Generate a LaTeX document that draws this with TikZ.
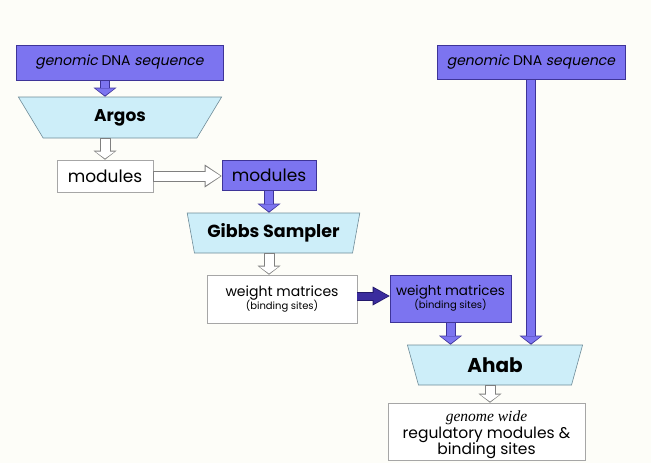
\documentclass[tikz,border=0pt]{standalone}
\usepackage{fontspec}
\setmainfont{Poppins}[ItalicFont=Poppins, ItalicFeatures={FakeSlant=0.2}]
\newfontfamily\serifit{Liberation Serif}
\usepackage{xcolor}
\definecolor{boxpurple}{HTML}{7C74F0}
\definecolor{edgepurple}{HTML}{3E3498}
\definecolor{darkpurple}{HTML}{3A2C9E}
\definecolor{darkedge}{HTML}{22186A}
\definecolor{toolcyan}{HTML}{CDEEF9}
\definecolor{tooledge}{HTML}{6F8C98}
\definecolor{paper}{HTML}{FDFDF8}
\usepackage{tikz}
\usetikzlibrary{arrows.meta, positioning, shapes.geometric, calc}

\begin{document}
\begin{tikzpicture}[x=1pt, y=-1pt,
    inputbox/.style={draw=edgepurple, fill=boxpurple, line width=0.6pt,
      inner sep=0pt, font=\fontsize{14}{16}\selectfont},
    outputbox/.style={draw=gray!70, fill=white, line width=0.6pt,
      inner sep=0pt, font=\fontsize{14}{16}\selectfont},
    toolbox/.style={trapezium, trapezium stretches=true, draw=tooledge,
      fill=toolcyan, line width=0.6pt, inner sep=0pt,
      font=\fontsize{17}{19}\selectfont\bfseries},
    purplearrow/.style={draw=edgepurple, line width=10pt,
      -{Triangle[length=9pt, width=23pt, line width=0pt]},
      postaction={draw=boxpurple, line width=8pt, shorten >=1.2pt,
        shorten <=0.8pt, -{Triangle[length=7pt, width=19pt, line width=0pt]}}},
    hollowarrow/.style={draw=gray, line width=11pt,
      -{Triangle[length=#1pt, width=23pt, line width=0pt]},
      postaction={draw=white, line width=9pt, shorten >=1.2pt,
        shorten <=0.8pt, -{Triangle[length=#1pt-2.2pt, width=19pt, line width=0pt]}}},
    hollowarrow/.default=9,
    darkarrow/.style={draw=darkedge, line width=9pt,
      -{Triangle[length=17pt, width=19pt, line width=0pt]},
      postaction={draw=darkpurple, line width=7pt, shorten >=1.2pt,
        -{Triangle[length=15pt, width=16pt, line width=0pt]}}}]
  % page
  \fill[paper] (0,0) rectangle (651,463);
  \useasboundingbox (0,0) rectangle (651,463);
  % left column: Argos finds modules
  \node[inputbox, minimum width=207pt, minimum height=35pt] (dnaleft)
    at (119.5,62.5) {\itshape genomic\upshape\ DNA \itshape sequence};
  \node[toolbox, trapezium left angle=116.6, trapezium right angle=116.6,
    minimum width=204pt, minimum height=41pt] (argos) at (120,117.5) {Argos};
  \node[outputbox, minimum width=96pt, minimum height=32pt,
    font=\fontsize{17}{19}\selectfont] (modleft) at (105,176) {modules};
  % middle column: Gibbs sampler finds matrices
  \node[inputbox, minimum width=94pt, minimum height=30pt,
    font=\fontsize{17}{19}\selectfont] (modright) at (269,175) {modules};
  \node[toolbox, trapezium left angle=108, trapezium right angle=108,
    minimum width=173pt, minimum height=40pt,
    font=\fontsize{17.5}{19}\selectfont\bfseries] (gibbs) at (273.5,233)
    {Gibbs Sampler};
  \node[outputbox, minimum width=150pt, minimum height=48pt, align=center]
    (wmleft) at (282,299) {weight matrices\\[-3pt]
    {\fontsize{10}{12}\selectfont (binding sites)}};
  % right column: Ahab scans the genome
  \node[inputbox, minimum width=121pt, minimum height=47pt, align=center,
    font=\fontsize{13.5}{16}\selectfont] (wmright) at (450.5,298.5)
    {weight matrices\\[-3pt] {\fontsize{10}{12}\selectfont (binding sites)}};
  \node[inputbox, minimum width=188pt, minimum height=34pt] (dnaright)
    at (531,62) {\itshape genomic\upshape\ DNA \itshape sequence};
  \node[toolbox, trapezium left angle=105, trapezium right angle=105,
    minimum width=176pt, minimum height=40pt,
    font=\fontsize{20}{22}\selectfont\bfseries] (ahab) at (495,365) {Ahab};
  \node[outputbox, minimum width=197pt, minimum height=57pt, align=center,
    font=\fontsize{15.5}{16.5}\selectfont] (result) at (486.5,431.5)
    {{\rule{0pt}{18pt}\serifit\itshape genome wide}\\ regulatory modules \&\\
    binding sites};
  % connectors
  \draw[purplearrow] (dnaleft.south -| modleft) -- (argos.north -| modleft);
  \draw[hollowarrow] (argos.south -| modleft) -- (modleft.north);
  \draw[hollowarrow=17] (modleft.east) -- (modright.west |- modleft);
  \draw[purplearrow] (modright.south) -- (modright.south |- gibbs.north);
  \draw[hollowarrow] (gibbs.south -| modright) -- (wmleft.north -| modright);
  \draw[darkarrow] (wmleft.east |- 0,296) -- (wmright.west |- 0,296);
  \draw[purplearrow] (wmright.south) -- (wmright.south |- ahab.north);
  \draw[purplearrow] (dnaright.south) -- (dnaright.south |- ahab.north);
  \draw[hollowarrow] ([xshift=-5pt]ahab.south)
    -- ([xshift=-5pt]ahab.south |- result.north);
\end{tikzpicture}
\end{document}
